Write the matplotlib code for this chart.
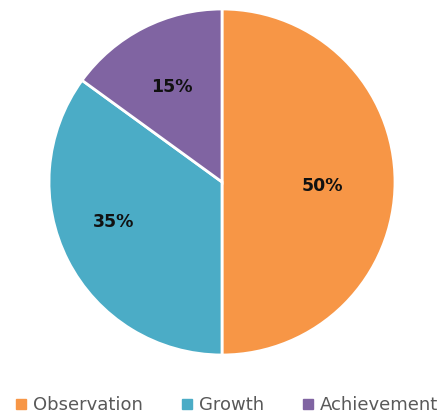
import numpy as np
import matplotlib.pyplot as plt
from matplotlib.lines import Line2D

labels = ["Observation", "Growth", "Achievement"]
values = [50, 35, 15]
colors = ["#F79646", "#4BACC6", "#8064A2"]
label_dist = [0.58, 0.67, 0.62]
label_turn = [-2, -7, 1]  # Grad, Label etwas neben der Mitte

fig = plt.figure(figsize=(4.47, 4.17), dpi=100)
ax = fig.add_axes([49 / 447, 62 / 417, 346 / 447, 346 / 417])

wedges, texts, autotexts = ax.pie(
    values, colors=colors, startangle=90, counterclock=False,
    autopct="%d%%", pctdistance=0.62, radius=1.0,
    wedgeprops=dict(edgecolor="white", linewidth=2),
    textprops=dict(fontsize=12.5, fontweight="bold", color="#111111"))
for w, t, d, k in zip(wedges, autotexts, label_dist, label_turn):
    ang = np.deg2rad((w.theta1 + w.theta2) / 2 + k)
    t.set_position((d * np.cos(ang), d * np.sin(ang)))
ax.set_xlim(-1, 1)
ax.set_ylim(-1, 1)
ax.set_aspect("equal")

handles = [Line2D([0], [0], marker="s", linestyle="", markersize=7,
                  markerfacecolor=c, markeredgecolor=c) for c in colors]
leg = fig.legend(handles, labels, loc="center", bbox_to_anchor=(226 / 447, 1 - 405 / 417),
                 ncol=3, frameon=False, fontsize=13, handlelength=0.8,
                 handletextpad=0.3, columnspacing=2.0)
for t in leg.get_texts():
    t.set_color("#595959")

plt.savefig("out.png", dpi=100)
